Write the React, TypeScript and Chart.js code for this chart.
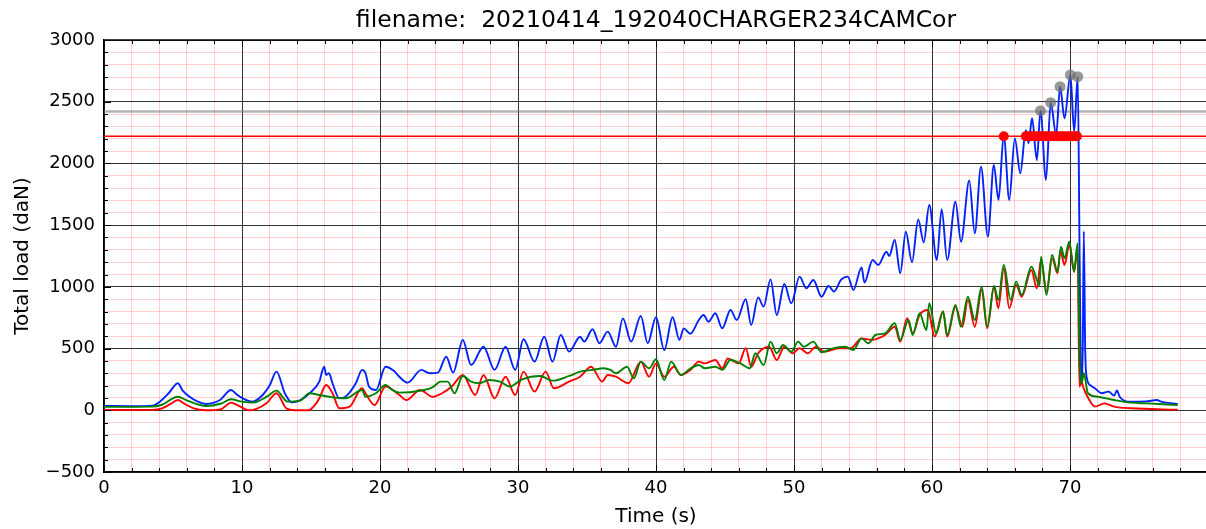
import React, { useEffect, useRef } from 'react';
import { Chart, registerables } from 'chart.js';

Chart.register(...registerables);

const titleText = 'filename:  20210414_192040CHARGER234CAMCor';
const xAxisTitle = 'Time (s)';
const yAxisTitle = 'Total load (daN)';

const xMajorTicks = [0, 10, 20, 30, 40, 50, 60, 70, 80];
const yMajorTicks = [-500, 0, 500, 1000, 1500, 2000, 2500, 3000];
const yTickLabels = ['\u2212500', '0', '500', '1000', '1500', '2000', '2500', '3000'];

const redThreshold = 2220;
const grayThreshold = 2420;

const blueX = [0, 2, 3.5, 4.05, 4.7, 5.35, 5.7, 6.2, 6.8, 7.4, 8.4, 9.2, 9.6, 10.05, 10.75, 11.5, 12.0, 12.5, 13.1, 13.6, 14.2, 14.9, 15.6, 15.95, 16.1, 16.3, 16.56, 17.05, 17.5, 18.25, 18.7, 18.95, 19.2, 19.7, 20.4, 21.0, 21.4, 22.0, 23.0, 23.6, 24.2, 24.8, 25.3, 26.0, 26.6, 27.5, 28.3, 29.1, 29.8, 30.4, 31.2, 31.9, 32.5, 33.1, 33.7, 34.5, 34.8, 35.4, 35.9, 36.5, 37.1, 37.6, 38.2, 38.9, 39.4, 40.0, 40.6, 41.2, 41.7, 42.0, 42.5, 43.1, 43.45, 43.8, 44.3, 44.8, 45.4, 45.85, 46.5, 46.9, 47.4, 47.8, 48.3, 48.75, 49.3, 49.8, 50.4, 50.9, 51.4, 52.0, 52.5, 52.9, 53.4, 53.9, 54.3, 54.9, 55.1, 55.7, 56.1, 56.7, 56.9, 57.3, 57.7, 58.1, 58.55, 59.0, 59.4, 59.8, 60.35, 60.7, 61.1, 61.7, 62.1, 62.7, 63.1, 63.55, 64.05, 64.48, 64.82, 65.2, 65.6, 66.0, 66.4, 66.8, 67.0, 67.25, 67.6, 67.86, 68.26, 68.6, 69.0, 69.28, 69.6, 70.03, 70.3, 70.56, 70.7, 70.8, 70.9, 71.0, 71.1, 71.2, 71.5, 71.8, 72.3, 72.8, 73.2, 73.4, 73.6, 74.4, 75.5, 76.3, 76.6, 77.8];
const blueY = [35, 33, 38, 70, 140, 219, 160, 110, 70, 51, 83, 164, 130, 97, 70, 124, 200, 313, 138, 65, 80, 138, 232, 353, 286, 300, 219, 97, 110, 219, 327, 300, 192, 164, 353, 320, 272, 224, 327, 300, 305, 434, 305, 570, 367, 515, 327, 515, 327, 575, 394, 596, 394, 610, 475, 596, 556, 656, 543, 637, 515, 745, 556, 764, 543, 754, 488, 754, 570, 664, 620, 731, 772, 718, 786, 664, 813, 731, 899, 691, 915, 840, 1061, 772, 1023, 867, 1083, 988, 1056, 920, 1007, 961, 1056, 1083, 975, 1158, 1035, 1218, 1177, 1285, 1250, 1380, 1110, 1447, 1200, 1547, 1360, 1663, 1218, 1630, 1218, 1690, 1366, 1862, 1434, 1974, 1407, 1987, 1704, 2230, 1704, 2203, 1920, 2270, 2163, 2366, 2028, 2427, 1866, 2492, 2230, 2622, 2366, 2717, 2257, 2703, 1200, 300, 250, 1450, 500, 272, 200, 178, 138, 151, 120, 160, 110, 70, 72, 83, 70, 51];

const redX = [0, 3.5, 4.2, 4.8, 5.35, 5.8, 6.5, 7.4, 8.5, 9.2, 9.7, 10.5, 11.0, 11.8, 12.5, 13.2, 13.8, 14.8, 15.4, 15.6, 16.1, 16.56, 17.05, 17.8, 18.7, 18.95, 19.6, 20.4, 21.4, 21.9, 22.9, 23.8, 24.5, 25.2, 26.0, 26.9, 27.5, 28.3, 29.1, 29.8, 30.4, 31.2, 32.0, 32.6, 33.7, 34.5, 35.3, 36.1, 36.5, 37.1, 38.0, 38.9, 39.5, 40.0, 40.6, 41.3, 41.8, 42.5, 43.1, 43.55, 44.3, 44.8, 45.2, 46.0, 46.5, 46.9, 47.4, 48.2, 48.75, 49.3, 49.9, 50.4, 51.0, 51.6, 52.2, 53.2, 54.1, 54.9, 55.6, 56.6, 57.3, 57.7, 58.2, 58.6, 59.1, 59.7, 60.2, 60.8, 61.1, 61.7, 62.2, 62.6, 63.1, 63.6, 64.0, 64.5, 64.8, 65.2, 65.6, 66.1, 66.5, 67.2, 67.6, 67.9, 68.3, 68.7, 69.1, 69.3, 69.6, 69.95, 70.3, 70.55, 70.68, 70.85, 70.95, 71.4, 71.8, 72.5, 73.2, 74.4, 77.8];
const redY = [2, 3, 15, 50, 83, 55, 15, 0, 10, 62, 40, 0, 10, 60, 138, 16, 0, 0, 60, 97, 205, 138, 16, 30, 178, 138, 43, 192, 124, 83, 164, 110, 138, 192, 286, 124, 286, 97, 272, 124, 313, 151, 313, 178, 232, 272, 353, 232, 286, 272, 219, 394, 272, 380, 272, 353, 286, 327, 394, 380, 407, 340, 420, 380, 502, 353, 462, 515, 407, 515, 462, 502, 462, 515, 475, 502, 502, 583, 570, 610, 677, 556, 746, 623, 772, 813, 597, 800, 597, 840, 677, 894, 677, 975, 664, 1002, 826, 1150, 826, 1015, 920, 1136, 988, 1217, 961, 1231, 1110, 1298, 1177, 1339, 1123, 1325, 192, 231, 190, 83, 30, 56, 30, 16, 5];

const greenX = [0, 3.5, 4.2, 5.35, 6.0, 7.4, 8.5, 9.2, 10.0, 10.8, 11.8, 12.5, 13.3, 14.2, 14.9, 15.6, 16.6, 17.5, 18.7, 18.95, 19.7, 20.4, 20.9, 21.4, 22.9, 23.8, 24.4, 24.9, 25.4, 26.0, 26.6, 27.2, 27.9, 28.7, 29.4, 30.3, 31.6, 32.5, 33.7, 34.5, 35.4, 36.2, 36.7, 37.1, 37.9, 38.4, 38.9, 39.5, 40.0, 40.6, 41.1, 41.8, 42.5, 43.1, 43.55, 44.3, 44.8, 45.4, 46.1, 46.8, 47.2, 47.8, 48.3, 48.75, 49.2, 49.8, 50.3, 50.7, 51.4, 52.0, 52.8, 53.7, 54.3, 54.9, 55.4, 55.9, 56.6, 57.3, 57.7, 58.3, 58.6, 59.1, 59.6, 59.8, 60.3, 60.8, 61.1, 61.7, 62.1, 62.6, 63.1, 63.6, 64.0, 64.5, 64.8, 65.2, 65.7, 66.1, 66.5, 67.2, 67.8, 67.9, 68.3, 68.7, 69.1, 69.35, 69.6, 69.95, 70.3, 70.55, 70.7, 70.85, 71.0, 71.3, 72.0, 73.2, 74.4, 75.6, 77.8];
const greenY = [28, 30, 45, 110, 80, 35, 55, 89, 70, 62, 110, 159, 70, 78, 138, 124, 105, 97, 164, 110, 138, 205, 164, 143, 158, 186, 232, 232, 138, 278, 232, 219, 245, 232, 192, 251, 278, 240, 278, 313, 327, 340, 327, 300, 353, 259, 394, 340, 413, 245, 394, 286, 340, 367, 340, 353, 327, 407, 380, 340, 462, 367, 556, 462, 529, 475, 556, 515, 556, 470, 502, 515, 489, 583, 543, 610, 623, 705, 570, 732, 610, 786, 650, 867, 623, 800, 610, 854, 677, 920, 732, 1002, 677, 1007, 894, 1177, 894, 1042, 934, 1163, 1015, 1244, 934, 1258, 1123, 1325, 1231, 1366, 1123, 1353, 400, 220, 300, 138, 110, 83, 62, 56, 43];

const peakX = [67.86, 68.6, 69.28, 70.03, 70.56];
const peakY = [2427, 2492, 2622, 2717, 2703];

const overX = [65.2, 66.8, 67.0, 67.2, 67.4, 67.6, 67.8, 68.0, 68.2, 68.4, 68.6, 68.8, 69.0, 69.2, 69.4, 69.6, 69.8, 70.0, 70.2, 70.4, 70.5];

const FONT = "'DejaVu Sans', sans-serif";

function pts(xs: number[], ys: number[]) {
  return xs.map((x, i) => ({ x, y: ys[i] }));
}

const decorPlugin = {
  id: 'decor',
  afterDraw(chart: any) {
    const { ctx, chartArea } = chart;
    const xs = chart.scales.x;
    const ys = chart.scales.y;
    ctx.save();
    ctx.strokeStyle = '#000';
    ctx.lineWidth = 1.5;
    ctx.beginPath();
    ctx.moveTo(chartArea.left, chartArea.top);
    ctx.lineTo(chartArea.right, chartArea.top);
    ctx.stroke();
    ctx.lineWidth = 1;
    for (let v = 0; v <= 80; v += 2) {
      const px = Math.round(xs.getPixelForValue(v)) + 0.5;
      const len = v % 10 === 0 ? 7 : 4;
      ctx.beginPath();
      ctx.moveTo(px, chartArea.bottom);
      ctx.lineTo(px, chartArea.bottom - len);
      ctx.moveTo(px, chartArea.top);
      ctx.lineTo(px, chartArea.top + len);
      ctx.stroke();
    }
    for (let v = -500; v <= 3000; v += 100) {
      const py = Math.round(ys.getPixelForValue(v)) + 0.5;
      const len = v % 500 === 0 ? 7 : 4;
      ctx.beginPath();
      ctx.moveTo(chartArea.left, py);
      ctx.lineTo(chartArea.left + len, py);
      ctx.stroke();
    }
    ctx.fillStyle = '#000';
    ctx.textAlign = 'center';
    ctx.textBaseline = 'middle';
    const cx = (chartArea.left + chartArea.right) / 2;
    ctx.font = `23.5px ${FONT}`;
    ctx.fillText(titleText, cx, 21);
    ctx.font = `20px ${FONT}`;
    ctx.fillText(xAxisTitle, cx, 517);
    ctx.translate(23, (chartArea.top + chartArea.bottom) / 2);
    ctx.rotate(-Math.PI / 2);
    ctx.fillText(yAxisTitle, 0, 0);
    ctx.restore();
  },
};

export default function App() {
  const ref = useRef<HTMLCanvasElement | null>(null);
  useEffect(() => {
    if (!ref.current) return;
    const lineStyle = {
      borderWidth: 1.9,
      pointRadius: 0,
      cubicInterpolationMode: 'monotone' as const,
    };
    const chart = new Chart(ref.current, {
      type: 'line',
      data: {
        datasets: [
          {
            label: 'over',
            data: overX.map((x) => ({ x, y: redThreshold })),
            showLine: false,
            pointRadius: 5,
            pointBackgroundColor: '#ff0000',
            pointBorderWidth: 0,
            order: 0,
          },
          {
            label: 'peaks',
            data: pts(peakX, peakY),
            showLine: false,
            pointRadius: 5.5,
            pointBackgroundColor: 'rgba(110,110,110,0.7)',
            pointBorderWidth: 0,
            order: 0,
          },
          { label: 'green', data: pts(greenX, greenY), borderColor: '#008000', ...lineStyle, order: 1 },
          { label: 'red', data: pts(redX, redY), borderColor: '#ff0000', ...lineStyle, order: 2 },
          { label: 'blue', data: pts(blueX, blueY), borderColor: '#0022ff', ...lineStyle, order: 3 },
          {
            label: 'redLine',
            data: [{ x: 0, y: redThreshold }, { x: 80, y: redThreshold }],
            borderColor: '#ff0000',
            borderWidth: 1.5,
            pointRadius: 0,
            order: 4,
          },
          {
            label: 'grayLine',
            data: [{ x: 0, y: grayThreshold }, { x: 80, y: grayThreshold }],
            borderColor: 'rgba(128,128,128,0.6)',
            borderWidth: 2.5,
            pointRadius: 0,
            order: 5,
          },
        ],
      },
      options: {
        animation: false,
        responsive: false,
        devicePixelRatio: 1,
        layout: { padding: { top: 40, right: 3.3, left: 0, bottom: 0 } },
        plugins: { legend: { display: false }, tooltip: { enabled: false }, title: { display: false } },
        scales: {
          x: {
            type: 'linear',
            min: 0,
            max: 80,
            afterFit: (s: any) => { s.height = 57; },
            afterBuildTicks: (s: any) => {
              const t = [];
              for (let v = 0; v <= 80; v += 2) t.push({ value: v });
              s.ticks = t;
            },
            ticks: {
              autoSkip: false,
              maxRotation: 0,
              padding: 6,
              color: '#000',
              font: { family: FONT, size: 18 },
              callback: (v: any) => (xMajorTicks.includes(v) && v < 80 ? String(v) : ''),
            },
            grid: {
              drawTicks: false,
              lineWidth: 1,
              color: (c: any) => (c.tick && xMajorTicks.includes(c.tick.value) ? 'rgba(0,0,0,0.8)' : 'rgba(255,0,0,0.18)'),
            },
            border: { display: true, color: '#000', width: 1.5 },
          },
          y: {
            type: 'linear',
            min: -500,
            max: 3000,
            afterFit: (s: any) => { s.width = 104; },
            afterBuildTicks: (s: any) => {
              const t = [];
              for (let v = -500; v <= 3000; v += 100) t.push({ value: v });
              s.ticks = t;
            },
            ticks: {
              autoSkip: false,
              padding: 9,
              color: '#000',
              font: { family: FONT, size: 18 },
              callback: (v: any) => {
                const i = yMajorTicks.indexOf(v);
                return i >= 0 ? yTickLabels[i] : '';
              },
            },
            grid: {
              drawTicks: false,
              lineWidth: 1,
              color: (c: any) => (c.tick && yMajorTicks.includes(c.tick.value) ? 'rgba(0,0,0,0.8)' : 'rgba(255,0,0,0.18)'),
            },
            border: { display: true, color: '#000', width: 1.5 },
          },
        },
      },
      plugins: [decorPlugin],
    });
    return () => chart.destroy();
  }, []);
  return (
    <div style={{ position: 'fixed', left: 0, top: 0, width: 1206, height: 529, overflow: 'hidden', background: '#fff' }}>
      <canvas ref={ref} width={1214} height={529} style={{ width: 1214, height: 529, display: 'block' }} />
    </div>
  );
}
